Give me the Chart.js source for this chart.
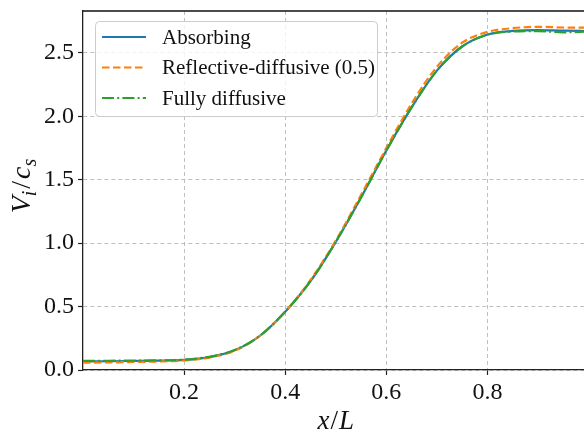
<!DOCTYPE html>
<html>
<head>
<meta charset="utf-8">
<script src="https://cdn.jsdelivr.net/npm/chart.js@4"></script>
<style>
  body { margin: 0; background: #fff; overflow: hidden; }
</style>
</head>
<body>
<canvas id="chart" width="584" height="436"></canvas>
<script>
const xValues = [0, 0.05, 0.1, 0.15, 0.2, 0.25, 0.3, 0.35, 0.4, 0.45, 0.5, 0.55, 0.6, 0.65, 0.7, 0.75, 0.8, 0.85, 0.9, 0.95, 1.0];
const absorbing = [0.068, 0.069, 0.071, 0.074, 0.080, 0.102, 0.155, 0.27, 0.46, 0.70, 1.01, 1.36, 1.73, 2.07, 2.36, 2.55, 2.645, 2.673, 2.68, 2.675, 2.672];
const reflective = [0.058, 0.060, 0.063, 0.067, 0.075, 0.098, 0.152, 0.27, 0.46, 0.71, 1.02, 1.38, 1.75, 2.10, 2.39, 2.58, 2.665, 2.695, 2.705, 2.70, 2.698];
const fullyDiffusive = [0.072, 0.073, 0.074, 0.076, 0.082, 0.104, 0.157, 0.27, 0.46, 0.70, 1.01, 1.36, 1.73, 2.07, 2.36, 2.55, 2.643, 2.668, 2.672, 2.662, 2.668];
const labels = ['Absorbing', 'Reflective-diffusive (0.5)', 'Fully diffusive'];
const xTicks = [0.2, 0.4, 0.6, 0.8];
const yTicks = [0, 0.5, 1.0, 1.5, 2.0, 2.5];

const SERIF = '"Liberation Serif", "DejaVu Serif", serif';

function toPoints(ys) {
    return xValues.map((x, i) => ({ x: x, y: ys[i] }));
}

// draws a math-ish label with italic letters and subscripts, centred at (0,0)
function drawMath(ctx, parts, size) {
    const subSize = Math.round(size * 0.7);
    let total = 0;
    parts.forEach(p => {
        ctx.font = (p.italic ? 'italic ' : '') + (p.sub ? subSize : size) + 'px ' + SERIF;
        p.w = ctx.measureText(p.t).width + (p.gap || 0);
        total += p.w;
    });
    let x = -total / 2;
    ctx.textBaseline = 'alphabetic';
    ctx.textAlign = 'left';
    parts.forEach(p => {
        ctx.font = (p.italic ? 'italic ' : '') + (p.sub ? subSize : size) + 'px ' + SERIF;
        ctx.fillText(p.t, x, p.sub ? size * 0.22 : 0);
        x += p.w;
    });
}

const decorations = {
    id: 'decorations',
    afterDraw(chart) {
        const ctx = chart.ctx;
        const area = chart.chartArea;

        // top spine
        ctx.save();
        ctx.strokeStyle = '#111';
        ctx.lineWidth = 1.3;
        ctx.beginPath();
        ctx.moveTo(area.left, area.top);
        ctx.lineTo(area.right, area.top);
        ctx.stroke();
        ctx.restore();

        // axis titles
        ctx.save();
        ctx.fillStyle = '#111';
        ctx.translate(chart.scales.x.getPixelForValue(0.5), 429);
        drawMath(ctx, [{ t: 'x', italic: true, gap: 1 }, { t: '/', gap: 1 }, { t: 'L', italic: true }], 27);
        ctx.restore();

        ctx.save();
        ctx.fillStyle = '#111';
        ctx.translate(30, 186);
        ctx.rotate(-Math.PI / 2);
        drawMath(ctx, [
            { t: 'V', italic: true }, { t: 'i', italic: true, sub: true, gap: 2 },
            { t: '/', gap: 2 },
            { t: 'c', italic: true }, { t: 's', italic: true, sub: true }
        ], 28);
        ctx.restore();

        // legend box
        const bx = 95.5, by = 21.5, bw = 282, bh = 95;
        ctx.save();
        ctx.fillStyle = 'rgba(255,255,255,0.8)';
        ctx.strokeStyle = '#cccccc';
        ctx.lineWidth = 1;
        ctx.beginPath();
        ctx.roundRect(bx, by, bw, bh, 4);
        ctx.fill();
        ctx.stroke();

        ctx.font = '20px ' + SERIF;
        const fitSize = 20 * 213 / ctx.measureText(labels[1]).width;
        const rows = [37, 67.5, 98];
        chart.data.datasets.forEach((ds, i) => {
            ctx.strokeStyle = ds.borderColor;
            ctx.lineWidth = ds.borderWidth;
            ctx.setLineDash(ds.borderDash || []);
            ctx.beginPath();
            ctx.moveTo(102, rows[i]);
            ctx.lineTo(146, rows[i]);
            ctx.stroke();
            ctx.setLineDash([]);
            ctx.fillStyle = '#111';
            ctx.font = fitSize.toFixed(1) + 'px ' + SERIF;
            ctx.textBaseline = 'middle';
            ctx.fillText(ds.label, 162, rows[i] + 1);
        });
        ctx.restore();
    }
};

new Chart(document.getElementById('chart').getContext('2d'), {
    type: 'line',
    data: {
        datasets: [
            {
                label: labels[0],
                data: toPoints(absorbing),
                borderColor: '#1f77b4',
                borderWidth: 2.2,
                order: 3
            },
            {
                label: labels[1],
                data: toPoints(reflective),
                borderColor: '#ff7f0e',
                borderWidth: 2.2,
                borderDash: [7.5, 3.5],
                order: 2
            },
            {
                label: labels[2],
                data: toPoints(fullyDiffusive),
                borderColor: '#2ca02c',
                borderWidth: 2.2,
                borderDash: [12, 3.2, 2, 3.2],
                order: 1
            }
        ]
    },
    options: {
        responsive: false,
        animation: false,
        devicePixelRatio: 1,
        layout: { padding: { top: 11, left: 0, right: 0, bottom: 0 } },
        elements: {
            point: { radius: 0 },
            line: { cubicInterpolationMode: 'monotone', fill: false }
        },
        plugins: {
            legend: { display: false },
            tooltip: { enabled: false }
        },
        scales: {
            x: {
                type: 'linear',
                min: 0,
                max: 0.991,
                afterBuildTicks: scale => { scale.ticks = xTicks.map(v => ({ value: v })); },
                afterFit: scale => {
                    scale.height = 66;
                    scale.paddingLeft = 0;
                    scale.paddingRight = 0;
                },
                grid: {
                    color: '#b0b0b0',
                    lineWidth: 0.8,
                    tickLength: 5,
                    tickColor: '#222',
                    tickWidth: 1.2,
                    tickBorderDash: []
                },
                border: { color: '#222', width: 1.3, dash: [4, 3] },
                ticks: {
                    color: '#111',
                    padding: 3,
                    font: { family: SERIF, size: 24 },
                    callback: v => v.toFixed(1)
                }
            },
            y: {
                min: 0,
                max: 2.83,
                afterBuildTicks: scale => { scale.ticks = yTicks.map(v => ({ value: v })); },
                afterFit: scale => {
                    scale.width = 83;
                    scale.paddingTop = 0;
                    scale.paddingBottom = 0;
                },
                grid: {
                    color: '#b0b0b0',
                    lineWidth: 0.8,
                    tickLength: 5,
                    tickColor: '#222',
                    tickWidth: 1.2,
                    tickBorderDash: []
                },
                border: { color: '#222', width: 1.3, dash: [4, 3] },
                ticks: {
                    color: '#111',
                    padding: 4,
                    font: { family: SERIF, size: 24 },
                    callback: v => v.toFixed(1)
                }
            }
        }
    },
    plugins: [decorations]
});
</script>
</body>
</html>
